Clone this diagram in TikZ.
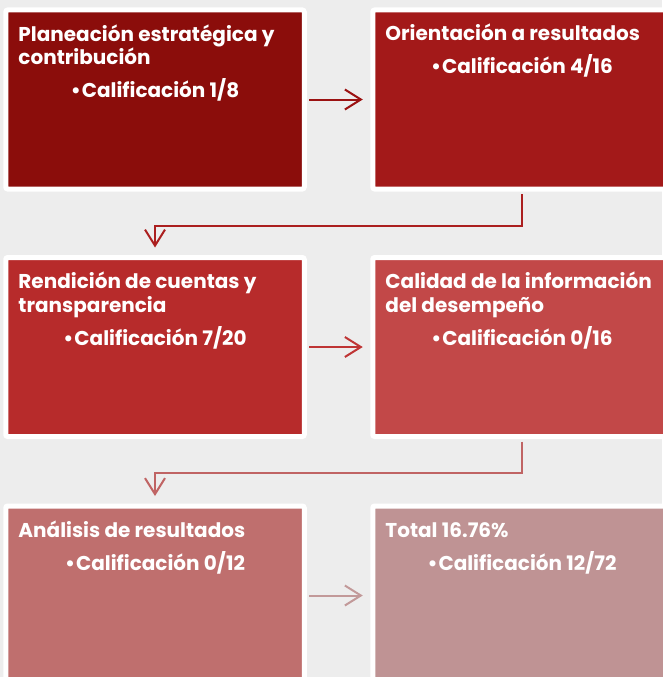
\documentclass[tikz,border=0pt]{standalone}
\usepackage{fontspec}
\setmainfont{Poppins}
\usetikzlibrary{arrows.meta}

\definecolor{bgGray}{HTML}{EDEDED}
\definecolor{stepOne}{HTML}{8B0D0B}
\definecolor{stepTwo}{HTML}{A31919}
\definecolor{stepThree}{HTML}{B72B2B}
\definecolor{stepFour}{HTML}{C24848}
\definecolor{stepFive}{HTML}{BF6F6E}
\definecolor{stepSix}{HTML}{BF9394}
\definecolor{linkOne}{HTML}{9B1212}
\definecolor{linkTwo}{HTML}{AB1F1F}
\definecolor{linkThree}{HTML}{BF3535}
\definecolor{linkFour}{HTML}{C06464}
\definecolor{linkFive}{HTML}{C29999}

\begin{document}
\begin{tikzpicture}[
  x=1pt, y=1pt,
  card/.style={
    draw=white,
    line width=5pt,
    rounded corners=2pt,
    minimum width=298.5pt,
    minimum height=179pt,
    inner sep=0pt
  },
  heading/.style={
    anchor=base west,
    align=left,
    text=white,
    inner sep=0pt,
    font=\fontsize{20}{23.5}\selectfont\bfseries
  },
  score/.style={
    anchor=base,
    text=white,
    inner sep=0pt,
    font=\fontsize{20}{23.5}\selectfont\bfseries
  },
  flow/.style={
    line width=2pt,
    shorten <=2.5pt,
    shorten >=7.5pt,
    -{Straight Barb[length=16pt,width=20pt]}
  }
]
\useasboundingbox (0,0) rectangle (662,-677);
\fill[bgGray] (0,0) rectangle (662,-677);

\node[card, fill=stepOne] at (155,-99.5) (plan) {};
\node[card, fill=stepTwo] at (522,-99.5) (orient) {};
\node[card, fill=stepThree] at (155,-347) (account) {};
\node[card, fill=stepFour] at (522,-347) (quality) {};
\node[card, fill=stepFive] at (155,-595.5) (analysis) {};
\node[card, fill=stepSix] at (522,-595.5) (total) {};

% two-line headings sit on the baseline of their last line
\node[heading] at ([xshift=15pt,yshift=-57pt]plan.north west) (plan-t) {Planeación estratégica y\\contribución};
\node[score] at ([yshift=-90pt]plan.north) (plan-s) {•\kern1pt Calificación 1/8};

\node[heading] at ([xshift=15pt,yshift=-33.5pt]orient.north west) (orient-t) {Orientación a resultados};
\node[score] at ([yshift=-66.5pt]orient.north) (orient-s) {•\kern1pt Calificación 4/16};

\node[heading] at ([xshift=15pt,yshift=-57pt]account.north west) (account-t) {Rendición de cuentas y\\transparencia};
\node[score] at ([yshift=-90pt]account.north) (account-s) {•\kern1pt Calificación 7/20};

\node[heading] at ([xshift=15pt,yshift=-57pt]quality.north west) (quality-t) {Calidad de la información\\del desempeño};
\node[score] at ([yshift=-90pt]quality.north) (quality-s) {•\kern1pt Calificación 0/16};

\node[heading] at ([xshift=15pt,yshift=-33.5pt]analysis.north west) (analysis-t) {Análisis de resultados};
\node[score] at ([yshift=-66.5pt]analysis.north) (analysis-s) {•\kern1pt Calificación 0/12};

\node[heading] at ([xshift=15pt,yshift=-33.5pt]total.north west) (total-t) {Total 16.76\%};
\node[score] at ([yshift=-66.5pt]total.north) (total-s) {•\kern1pt Calificación 12/72};

\draw[flow, draw=linkOne] (plan.east) -- (orient.west);
\draw[flow, draw=linkTwo] (orient.south) -- ++(0,-34) -| (account.north);
\draw[flow, draw=linkThree] (account.east) -- (quality.west);
\draw[flow, draw=linkFour] (quality.south) -- ++(0,-34) -| (analysis.north);
\draw[flow, draw=linkFive] (analysis.east) -- (total.west);
\end{tikzpicture}
\end{document}
